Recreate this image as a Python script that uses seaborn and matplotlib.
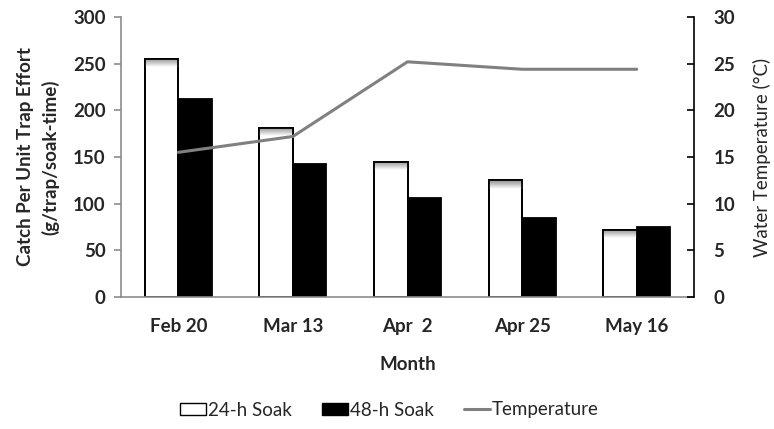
import matplotlib
matplotlib.use("Agg")
import matplotlib.pyplot as plt
import seaborn as sns
import pandas as pd
import numpy as np
from matplotlib.lines import Line2D
from matplotlib.patches import Patch

months = ["Feb 20", "Mar 13", "Apr  2", "Apr 25", "May 16"]
soak24 = [255, 181, 145, 125, 72]
soak48 = [212, 143, 106, 85, 75]
temperature = [15.5, 17.2, 25.2, 24.4, 24.4]

sns.set_theme(style="white")
plt.rcParams['font.family'] = ['Lato', 'DejaVu Sans']

FS = 13.5

df = pd.DataFrame({
    "Month": months * 2,
    "CPUE": soak24 + soak48,
    "Soak": ["24-h Soak"] * 5 + ["48-h Soak"] * 5,
})

fig = plt.figure(figsize=(7.74, 4.29), dpi=100)
ax = fig.add_axes([121/774, 132/429, (694-121)/774, (412-132)/429])

sns.barplot(data=df, x="Month", y="CPUE", hue="Soak",
            palette={"24-h Soak": "white", "48-h Soak": "black"},
            width=0.585, ax=ax, legend=False, saturation=1)
patches = list(ax.patches)
for p in patches:
    p.set_edgecolor("black")
    p.set_linewidth(1.3)

# gradient shading at the top of white bars
grad = np.linspace(0.55, 1.0, 50).reshape(-1, 1)
for p in patches[:5]:
    x0, w, h = p.get_x(), p.get_width(), p.get_height()
    im = ax.imshow(np.flipud(grad), cmap="gray", vmin=0, vmax=1, aspect="auto",
                   extent=[x0, x0 + w, h - 9, h], origin="lower", zorder=p.get_zorder() + 0.1,
                   interpolation="bilinear")
    im.set_clip_path(p)
    p2 = plt.Rectangle((x0, 0), w, h, fill=False, edgecolor="black", linewidth=1.3,
                       zorder=p.get_zorder() + 0.2)
    ax.add_patch(p2)

ax.set_ylim(0, 300)
ax.set_xlim(-0.5, 4.5)
ax.set_yticks(range(0, 301, 50))
ax.set_xlabel("Month", fontsize=FS, fontweight="bold", labelpad=15)
ax.set_ylabel("Catch Per Unit Trap Effort\n(g/trap/soak-time)", fontsize=FS,
              fontweight="bold", labelpad=10, linespacing=1.45)
for lab in ax.get_xticklabels() + ax.get_yticklabels():
    lab.set_fontweight("bold")
    lab.set_fontsize(FS)
ax.tick_params(axis="x", pad=15)
for s in ["top", "right"]:
    ax.spines[s].set_visible(False)
for s in ["left", "bottom"]:
    ax.spines[s].set_color("#8c8c8c")
    ax.spines[s].set_linewidth(1.2)
ax.set_xticks(np.arange(-0.5, 5, 1), minor=True)
ax.tick_params(axis="x", which="major", length=0)
ax.tick_params(axis="x", which="minor", length=5, color="#8c8c8c", width=1.2, direction="out")
ax.tick_params(axis="y", length=5, color="#8c8c8c", width=1.2, direction="out", left=True, pad=6)

ax2 = ax.twinx()
sns.lineplot(x=np.arange(len(months)), y=temperature, ax=ax2, color="#808080",
             linewidth=2.2)
ax2.set_ylim(0, 30)
ax2.set_yticks(range(0, 31, 5))
ax2.set_xlim(-0.5, 4.5)
ax2.set_ylabel("Water Temperature (°C)", fontsize=FS, labelpad=13)
for lab in ax2.get_yticklabels():
    lab.set_fontweight("bold")
    lab.set_fontsize(FS)
for s in ["top", "left", "bottom"]:
    ax2.spines[s].set_visible(False)
ax2.spines["right"].set_color("black")
ax2.spines["right"].set_linewidth(1.2)
ax2.tick_params(axis="y", length=5, color="black", width=1.2, direction="in", right=True, pad=14)
ax2.grid(False)
ax.grid(False)

handles = [Patch(facecolor="white", edgecolor="black", label="24-h Soak"),
           Patch(facecolor="black", edgecolor="black", label="48-h Soak"),
           Line2D([], [], color="#808080", linewidth=2.2, label="Temperature")]
fig.legend(handles=handles, loc="center", bbox_to_anchor=(389/774, 1 - 410/429),
           ncol=3, frameon=False, fontsize=FS, handlelength=1.4, handleheight=0.6,
           handletextpad=0.1, columnspacing=1.6)

fig.savefig("out.png", dpi=100)
